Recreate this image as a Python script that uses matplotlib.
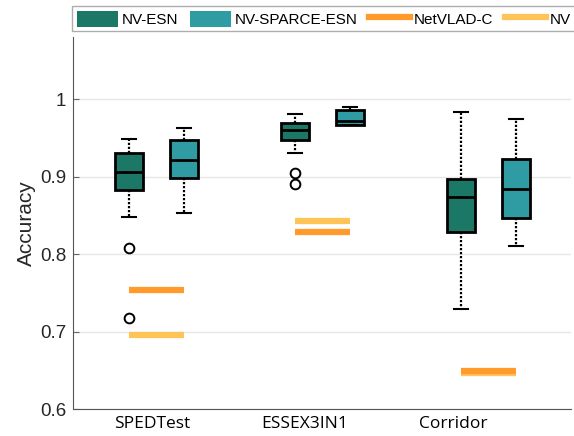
import matplotlib
matplotlib.use('Agg')
import matplotlib.pyplot as plt
from matplotlib.patches import Patch
from matplotlib.lines import Line2D

# datasets and methods
datasets = ['SPEDTest', 'ESSEX3IN1', 'Corridor']
methods = ['NV-ESN', 'NV-SPARCE-ESN', 'NetVLAD-C', 'NV']

# box stats: whislo, q1, med, q3, whishi
esn_stats = [[0.848, 0.882, 0.906, 0.930, 0.948],
             [0.930, 0.947, 0.960, 0.969, 0.981],
             [0.729, 0.828, 0.874, 0.897, 0.983]]
esn_fliers = [[0.808, 0.717], [0.905, 0.890], []]
sparce_stats = [[0.853, 0.898, 0.921, 0.947, 0.963],
                [0.967, 0.967, 0.972, 0.986, 0.990],
                [0.810, 0.846, 0.884, 0.923, 0.974]]
sparce_fliers = [[], [], []]

# baseline accuracies
netvlad_c = [0.754, 0.828, 0.649]
nv = [0.695, 0.843, 0.646]

c_esn = '#1b7866'
c_sparce = '#2f9ba3'
c_netvlad = '#ff9a2b'
c_nv = '#ffc457'

# group centres (MATLAB layout is slightly irregular)
centres = [1.0, 2.0, 3.0]
off_l, off_r = -0.163, 0.17
tick_pos = [0.975, 1.898, 2.79]

def to_bxp(stats, fliers):
    out = []
    for s, f in zip(stats, fliers):
        out.append(dict(whislo=s[0], q1=s[1], med=s[2], q3=s[3], whishi=s[4], fliers=f))
    return out

fig = plt.figure(figsize=(5.74, 4.36), dpi=100)
ax = fig.add_axes([73 / 574, 1 - 409 / 436, 498 / 574, (409 - 37) / 436])

for stats, fliers, off, col in [(esn_stats, esn_fliers, off_l, c_esn),
                                (sparce_stats, sparce_fliers, off_r, c_sparce)]:
    pos = [c + off for c in centres]
    ax.bxp(to_bxp(stats, fliers), positions=pos, widths=0.17, patch_artist=True,
           boxprops=dict(facecolor=col, edgecolor='black', linewidth=2),
           medianprops=dict(color='black', linewidth=2),
           whiskerprops=dict(color='black', linestyle=(0, (1, 0.8)), linewidth=1.6),
           capprops=dict(color='black', linewidth=1.5),
           flierprops=dict(marker='o', markerfacecolor='none', markeredgecolor='black',
                           markersize=7, markeredgewidth=1.4),
           capwidths=0.085, zorder=3)

for i, c in enumerate(centres):
    ax.plot([c + off_l, c + off_r], [nv[i], nv[i]], color=c_nv, linewidth=4.5,
            solid_capstyle='butt', zorder=2)
    ax.plot([c + off_l, c + off_r], [netvlad_c[i], netvlad_c[i]], color=c_netvlad,
            linewidth=4.5, solid_capstyle='butt', zorder=2)

ax.set_xlim(0.5, 3.5)
ax.set_ylim(0.6, 1.08)
ax.set_yticks([0.6, 0.7, 0.8, 0.9, 1.0])
ax.set_yticklabels(['0.6', '0.7', '0.8', '0.9', '1'], fontsize=13.5, family='Liberation Sans',
                   color='#262626')
ax.set_xticks(tick_pos)
ax.set_xticklabels(datasets, fontsize=12.5, family='Open Sans')
ax.tick_params(axis='x', length=0, pad=5)
ax.tick_params(axis='y', direction='in', length=4, color='#666666', pad=5)
ax.grid(axis='y', color='#e6e6e6', linewidth=1, zorder=0)
ax.set_axisbelow(True)
ax.set_ylabel('Accuracy', fontsize=15, family='Liberation Sans', color='#262626', labelpad=3)
for s in ['top', 'right']:
    ax.spines[s].set_visible(False)
for s in ['left', 'bottom']:
    ax.spines[s].set_color('#555555')
    ax.spines[s].set_linewidth(0.8)

handles = [Patch(facecolor=c_esn, edgecolor='none'),
           Patch(facecolor=c_sparce, edgecolor='none'),
           Line2D([], [], color=c_netvlad, linewidth=4.5),
           Line2D([], [], color=c_nv, linewidth=4.5)]
leg = fig.legend(handles, methods, loc='upper left', bbox_to_anchor=(72 / 574, 1 - 6 / 436),
                 ncol=4, prop=dict(family='Liberation Sans', size=11),
                 handlelength=2.7, handleheight=1.25, handletextpad=0.25, columnspacing=0.75,
                 borderpad=0.3, borderaxespad=0, frameon=True, fancybox=False)
leg.get_frame().set_edgecolor('#999999')
leg.get_frame().set_linewidth(1)

fig.savefig('out.png', dpi=100)
